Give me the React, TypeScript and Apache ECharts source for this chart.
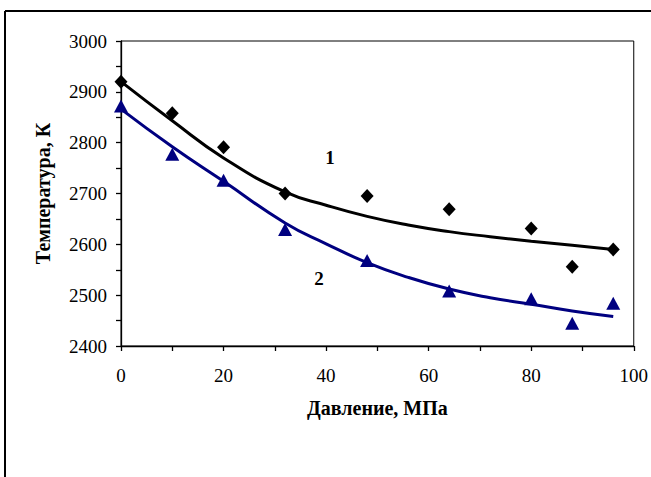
import React, { useEffect, useRef } from "react";
import * as echarts from "echarts";

// Measured points (pressure, MPa ; temperature, K)
const pressure = [0, 10, 20, 32, 48, 64, 80, 88, 96];
const temp1 = [2920, 2858, 2791, 2700, 2695, 2669, 2631, 2556, 2590];
const temp2 = [2872, 2777, 2726, 2629, 2568, 2508, 2493, 2445, 2484];

// Trend curves
const curveX = [0, 10, 20, 32, 40, 48, 56, 64, 72, 80, 88, 96];
const curve1 = [2920, 2843, 2770, 2703, 2677, 2655, 2638, 2625, 2615, 2606, 2598, 2590];
const curve2 = [2866, 2792, 2724, 2642, 2601, 2564, 2535, 2512, 2495, 2482, 2469, 2458];

const xTicks = { min: 0, max: 100, interval: 20 };
const yTicks = { min: 2400, max: 3000, interval: 100 };

const xTitle = "Давление, МПа";
const yTitle = "Температура, К";
const curveLabels = ["1", "2"];

const FONT = "'Liberation Serif', 'Times New Roman', serif";

export default function App() {
  const ref = useRef<HTMLDivElement>(null);
  useEffect(() => {
    if (!ref.current) return;
    const chart = echarts.init(ref.current, null, { renderer: "svg" });
    const pairs = (xs: number[], ys: number[]) => xs.map((x, i) => [x, ys[i]]);
    const axisCommon = {
      type: "value" as const,
      axisLine: { show: true, lineStyle: { color: "#000", width: 1.3 } },
      axisTick: { show: true, inside: false, length: 5, lineStyle: { color: "#000", width: 1.3 } },
      minorTick: { show: true, splitNumber: 2, length: 5, lineStyle: { color: "#000", width: 1.3 } },
      splitLine: { show: false },
      axisLabel: {
        color: "#000",
        fontFamily: FONT,
        fontSize: 19,
        formatter: (v: number) => String(v),
      },
      nameTextStyle: { color: "#000", fontFamily: FONT, fontSize: 20, fontWeight: "bold" as const },
    };
    chart.setOption({
      animation: false,
      backgroundColor: "#fff",
      grid: {
        left: 121,
        top: 41,
        right: 16,
        bottom: 131,
        show: true,
        borderColor: "#000",
        borderWidth: 1,
        backgroundColor: "transparent",
      },
      xAxis: {
        ...axisCommon,
        ...xTicks,
        name: xTitle,
        nameLocation: "middle",
        nameGap: 52,
        axisLabel: { ...axisCommon.axisLabel, margin: 20 },
      },
      yAxis: {
        ...axisCommon,
        ...yTicks,
        name: yTitle,
        nameLocation: "middle",
        nameGap: 68,
        axisLabel: { ...axisCommon.axisLabel, margin: 14 },
      },
      series: [
        {
          type: "line",
          data: pairs(curveX, curve1),
          smooth: 0.5,
          showSymbol: false,
          lineStyle: { color: "#000", width: 3 },
          z: 2,
        },
        {
          type: "line",
          data: pairs(curveX, curve2),
          smooth: 0.5,
          showSymbol: false,
          lineStyle: { color: "#000080", width: 3 },
          z: 2,
        },
        {
          type: "scatter",
          data: pairs(pressure, temp1),
          symbol: "diamond",
          symbolSize: [13, 14],
          itemStyle: { color: "#000", opacity: 1 },
          z: 3,
        },
        {
          type: "scatter",
          data: pairs(pressure, temp2),
          symbol: "triangle",
          symbolSize: [14, 13],
          itemStyle: { color: "#000080", opacity: 1 },
          z: 3,
        },
      ],
      graphic: [
        { type: "line", shape: { x1: 5, y1: 11, x2: 651, y2: 11 }, style: { stroke: "#000", lineWidth: 2 } },
        { type: "line", shape: { x1: 5, y1: 11, x2: 5, y2: 477 }, style: { stroke: "#000", lineWidth: 2 } },
        {
          type: "text",
          x: 330,
          y: 157,
          style: {
            text: curveLabels[0],
            font: `bold 19px ${FONT}`,
            fill: "#000",
            align: "center",
            verticalAlign: "middle",
          },
        },
        {
          type: "text",
          x: 319,
          y: 278,
          style: {
            text: curveLabels[1],
            font: `bold 19px ${FONT}`,
            fill: "#000",
            align: "center",
            verticalAlign: "middle",
          },
        },
      ],
    });
    return () => chart.dispose();
  }, []);
  return (
    <div
      ref={ref}
      style={{ position: "fixed", left: 0, top: 0, width: 651, height: 477, background: "#fff" }}
    />
  );
}
